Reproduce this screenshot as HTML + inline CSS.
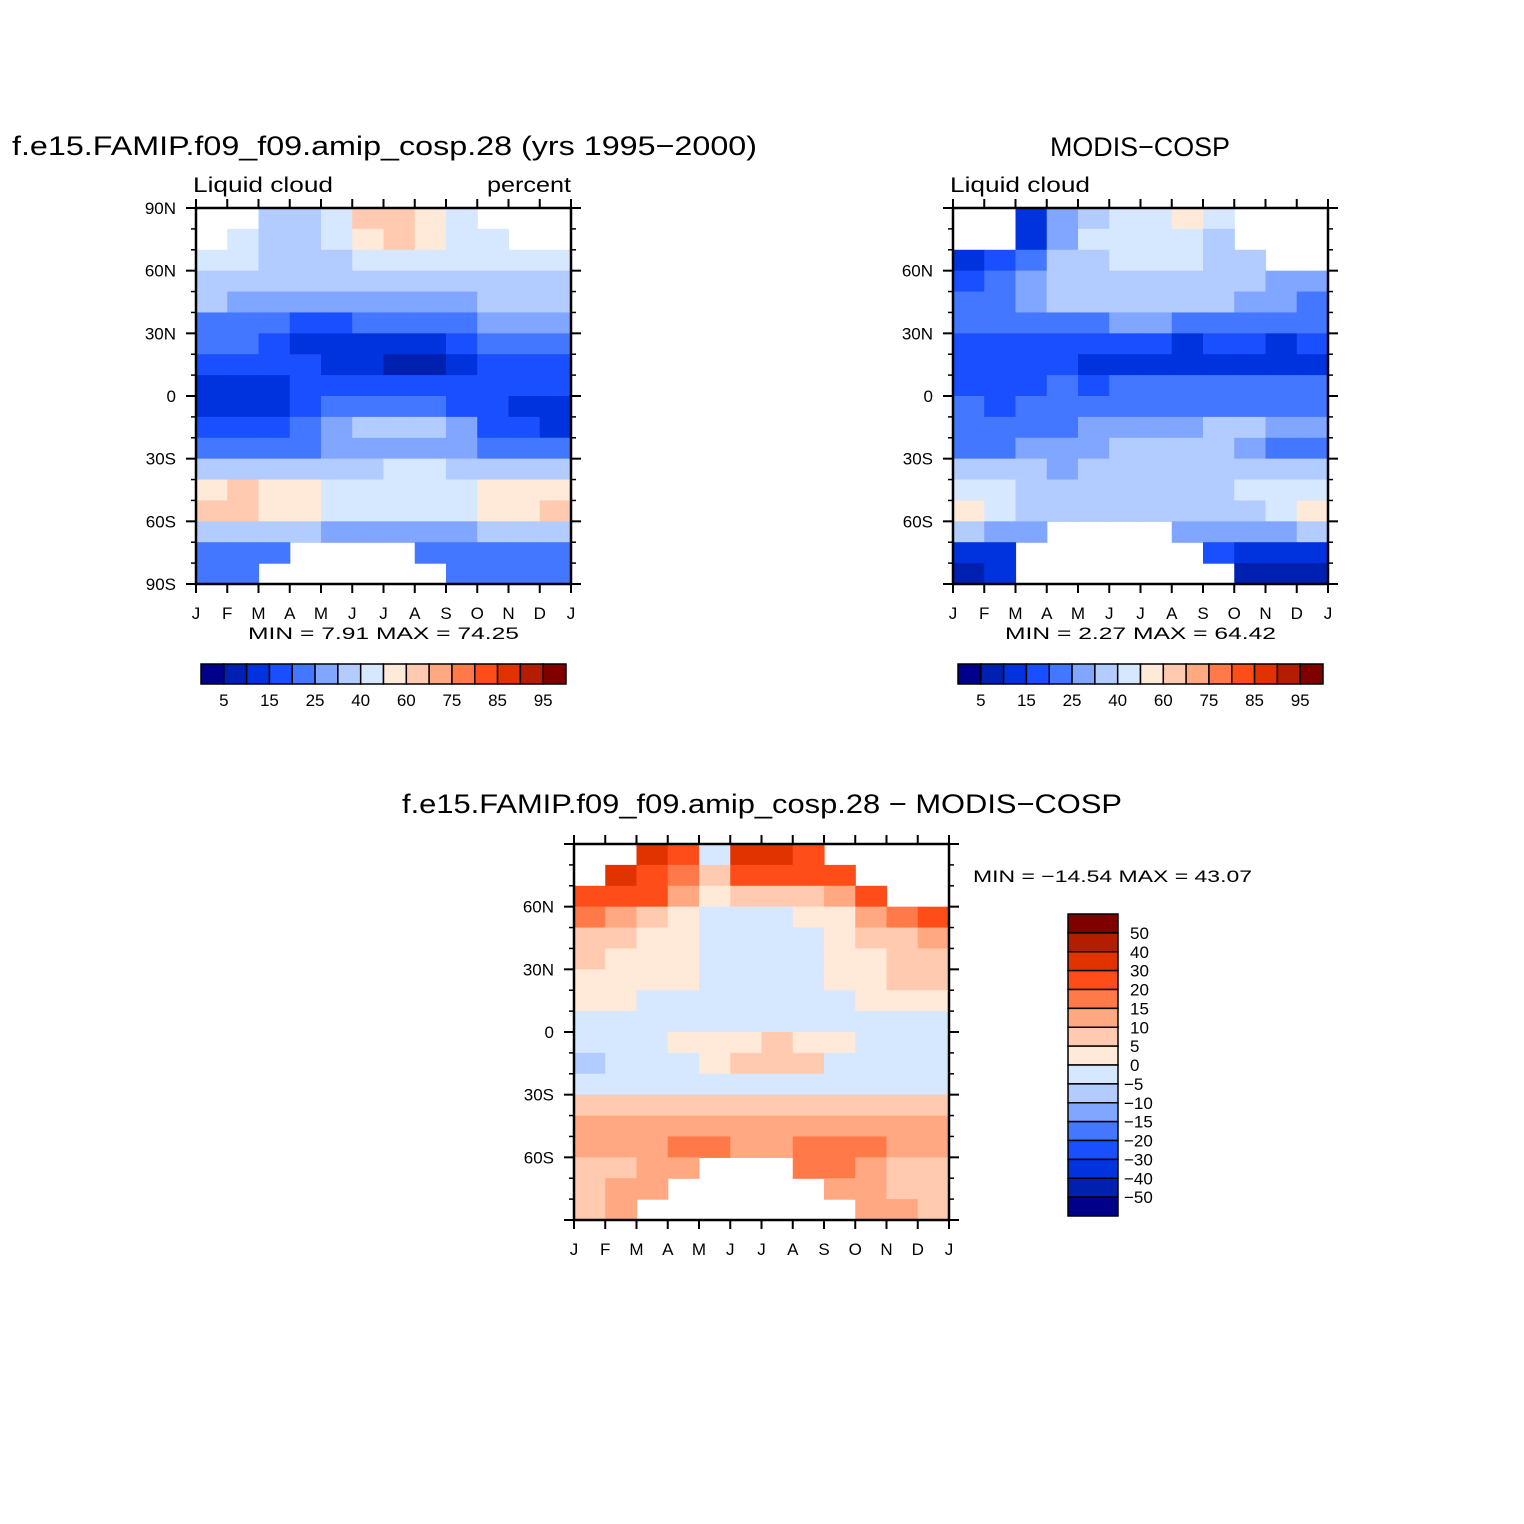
<!DOCTYPE html>
<html><head><meta charset="utf-8"><style>
body{margin:0;background:#fff}
svg{display:block;font-family:"Liberation Sans",sans-serif}
</style></head><body>
<svg id="fig" width="1524" height="1524" viewBox="0 0 1524 1524" xmlns="http://www.w3.org/2000/svg">
<rect width="1524" height="1524" fill="#fff"/>
</svg>
<script>
const months = ["J","F","M","A","M","J","J","A","S","O","N","D","J"];
const latTicks = [90,60,30,0,-30,-60,-90];
const latLabels = ["90N","60N","30N","0","30S","60S","90S"];
const absLevels = [5,10,15,20,25,30,40,50,60,70,75,80,85,90,95];
const absLabels = ["5","15","25","40","60","75","85","95"];
const diffLevels = [-50,-40,-30,-20,-15,-10,-5,0,5,10,15,20,30,40,50];
const palette = ["#00008a","#0021b0","#0033dd","#1a4fff","#4477ff","#80a6ff","#b3ccff","#d6e8ff","#ffe9d9","#ffcab0","#ffa882","#ff7a48","#ff4d1a","#e03300","#b31e00","#800000"];
const n=null;
const modelData = [
[n,n,32,30,40,62,62,55,45,n,n,n],
[n,45,35,32,40,55,60,50,45,45,n,n],
[45,40,35,35,38,42,45,42,40,42,45,45],
[35,33,33,32,32,33,35,35,33,35,37,38],
[30,28,27,27,26,27,28,28,28,30,32,33],
[24,23,22,18,18,20,22,22,23,25,27,28],
[22,20,18,14,13,13,12,13,16,20,22,24],
[18,17,17,16,14,11,9,9,12,17,18,19],
[14,13,14,16,17,17,16,15,16,15,16,17],
[13,11,13,16,20,22,23,22,19,15,13,13],
[16,16,17,20,27,33,35,33,26,18,15,14],
[22,22,22,23,25,27,28,28,26,23,22,21],
[35,35,35,35,36,38,40,40,38,35,33,33],
[58,60,55,50,45,45,45,45,48,55,58,58],
[60,62,58,52,48,45,42,42,48,55,58,60],
[30,32,30,32,28,25,25,25,28,30,30,30],
[22,22,24,n,n,n,n,24,22,20,20,22],
[22,24,n,n,n,n,n,n,22,20,20,22]];
const obsData = [
[n,n,10,25,35,40,45,50,45,n,n,n],
[n,n,12,25,40,42,45,45,35,n,n,n],
[12,15,20,30,38,40,40,40,35,35,n,n],
[18,20,25,30,35,38,38,38,35,30,28,25],
[22,24,26,30,35,37,37,35,32,28,25,24],
[20,20,22,22,24,25,25,24,22,22,22,20],
[17,17,18,18,17,15,15,14,15,15,14,15],
[17,16,15,15,14,13,13,12,10,10,12,14],
[18,18,19,20,18,20,20,20,20,20,20,20],
[20,18,20,22,22,22,22,21,22,22,22,22],
[22,22,22,22,25,27,27,28,30,30,28,26],
[24,24,25,25,27,30,30,30,30,25,22,22],
[32,32,30,28,30,35,35,35,35,35,33,33],
[40,40,38,35,35,35,35,35,38,40,40,40],
[50,45,38,34,30,30,30,30,30,35,45,50],
[30,28,25,n,n,n,n,28,25,25,28,30],
[12,12,n,n,n,n,n,n,15,10,10,12],
[8,10,n,n,n,n,n,n,n,8,5,8]];
const diffData = [
[n,n,30,25,-5,30,32,28,n,n,n,n],
[n,32,28,18,8,20,22,20,20,n,n,n],
[28,25,20,10,3,5,6,6,12,20,n,n],
[16,12,7,3,-2,-3,-2,0,4,10,16,20],
[7,6,4,2,-3,-2,-3,-2,2,6,8,10],
[5,4,3,2,-2,-3,-2,-2,2,4,5,6],
[4,3,2,2,-2,-4,-4,-3,0,3,6,5],
[3,2,-2,-2,-2,-3,-4,-3,-2,4,4,3],
[-3,-4,-4,-3,-3,-3,-4,-4,-3,-2,-2,-2],
[-4,-3,-2,2,4,4,6,4,3,-2,-3,-4],
[-6,-3,-2,-2,2,6,8,5,-2,-2,-4,-5],
[-2,-2,-2,-2,-2,-2,-2,-2,-2,-2,-2,-2],
[5,5,6,6,6,6,6,6,6,6,5,5],
[11,11,12,13,13,12,12,13,13,13,12,11],
[10,12,14,16,16,14,14,16,17,15,13,10],
[5,8,10,14,n,n,n,18,16,12,8,5],
[7,10,10,n,n,n,n,n,12,10,8,7],
[9,10,n,n,n,n,n,n,n,10,10,9]];
const diffLabels = ["50","40","30","20","15","10","5","0","-5","-10","-15","-20","-30","-40","-50"];

const NS="http://www.w3.org/2000/svg";
const svg=document.getElementById('fig');
function mk(tag,attrs,parent){const e=document.createElementNS(NS,tag);for(const k in attrs)e.setAttribute(k,attrs[k]);(parent||svg).appendChild(e);return e;}
function txt(s,x,y,size,anchor,parent,len){const a={x:x,y:y,'font-size':size,'text-anchor':anchor||'middle',fill:'#000'};if(len){a.textLength=len;a.lengthAdjust='spacingAndGlyphs';}const t=mk('text',a,parent);t.textContent=s.replace(/-/g,'\u2212');return t;}
function colorFor(v,levels){let i=0;while(i<levels.length&&v>=levels[i])i++;return palette[i];}

function panel(name,x0,y0,w,h,data,levels,showPoles){
  const g=mk('g',{});
  
  
  const xs=m=>x0+m*w/12;
  const ys=lat=>y0+(90-lat)/180*h;
  const rows=data.length;
  for(let r=0;r<rows;r++){for(let c=0;c<12;c++){const v=data[r][c];if(v===null)continue;
    const latTop=90-r*180/rows, latBot=90-(r+1)*180/rows;
    const cell=mk('rect',{x:xs(c),y:ys(latTop),width:w/12+0.6,height:ys(latBot)-ys(latTop)+0.6,fill:colorFor(v,levels)},g);
    
    }}
  const fr=mk('rect',{x:x0,y:y0,width:w,height:h,fill:'none',stroke:'#000','stroke-width':2.5},g);
  
  
  for(let m=0;m<=12;m++){const x=xs(m);
    mk('line',{x1:x,y1:y0+h,x2:x,y2:y0+h+9,stroke:'#000','stroke-width':2},g);
    mk('line',{x1:x,y1:y0,x2:x,y2:y0-9,stroke:'#000','stroke-width':2},g);
    const t=txt(months[m],x,y0+h+35,17,'middle',g);
    
    }
  for(let lat=-80;lat<=80;lat+=10){if(lat%30===0)continue;const y=ys(lat);
    mk('line',{x1:x0-5,y1:y,x2:x0,y2:y,stroke:'#000','stroke-width':1.5},g);
    mk('line',{x1:x0+w,y1:y,x2:x0+w+5,y2:y,stroke:'#000','stroke-width':1.5},g);}
  latTicks.forEach((lat,i)=>{const y=ys(lat);
    mk('line',{x1:x0-10,y1:y,x2:x0,y2:y,stroke:'#000','stroke-width':2},g);
    mk('line',{x1:x0+w,y1:y,x2:x0+w+10,y2:y,stroke:'#000','stroke-width':2},g);
    if(!showPoles&&Math.abs(lat)===90)return;
    const t=txt(latLabels[i],x0-20,y+6,17,'end',g);
    
    });
}
function hbar(name,x0,y0,w,h){
  const g=mk('g',{});
  
  
  const bw=w/16;
  for(let i=0;i<16;i++){const b=mk('rect',{x:x0+i*bw,y:y0,width:bw,height:h,fill:palette[i],stroke:'#000','stroke-width':1.5},g);
    
    }
  absLabels.forEach((s,i)=>{const t=txt(s,x0+(1+2*i)*bw,y0+h+22,17,'middle',g);
    
    });
}
let t;
t=txt("f.e15.FAMIP.f09_f09.amip_cosp.28 (yrs 1995-2000)",12,155,27,'start',null,745);
t=txt("Liquid cloud",193,192,21,'start',null,140);
t=txt("percent",487,192,21,'start',null,84);
panel('model-panel',196,208,375,376,modelData,absLevels,true);
t=txt("MIN =    7.91  MAX =   74.25",248,639,17,'start',null,271);
hbar('model-colorbar',201,664,365,20);
t=txt("MODIS-COSP",1050,156,27,'start',null,180);
t=txt("Liquid cloud",950,192,21,'start',null,140);
panel('obs-panel',953,208,375,376,obsData,absLevels,false);
t=txt("MIN =    2.27  MAX =   64.42",1005,639,17,'start',null,271);
hbar('obs-colorbar',958,664,365,20);
t=txt("f.e15.FAMIP.f09_f09.amip_cosp.28 - MODIS-COSP",402,813,27,'start',null,720);
panel('diff-panel',574,844,375,376,diffData,diffLevels,false);
t=txt("MIN = -14.54  MAX =   43.07",973,882,17,'start',null,279);
(function(){const g=mk('g',{});
  
  
  const x0=1068,y0=914,w=50,h=302,bh=h/16;
  for(let i=0;i<16;i++){const b=mk('rect',{x:x0,y:y0+i*bh,width:w,height:bh,fill:palette[15-i],stroke:'#000','stroke-width':1.5},g);
    
    }
  diffLabels.forEach((s,i)=>{const t=txt(s,s[0]==='-'?1124:1130,y0+(i+1)*bh+6,17,'start',g);
    
    });
})();
</script>
</body></html>
